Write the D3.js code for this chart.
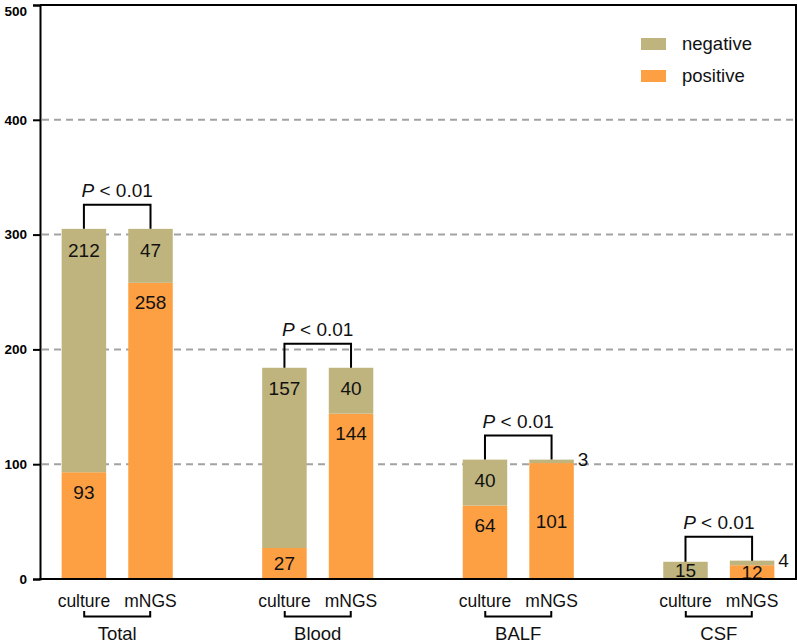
<!DOCTYPE html>
<html>
<head>
<meta charset="utf-8">
<script src="https://cdn.jsdelivr.net/npm/d3@7"></script>
<style>
  html, body { margin: 0; padding: 0; background: #fff; }
  svg { display: block; font-family: "Liberation Sans", Arial, Helvetica, sans-serif; }
</style>
</head>
<body>
<svg id="chart" width="797" height="644"></svg>
<script>
// ---- data ----
const groups = ["Total", "Blood", "BALF", "CSF"];
const methods = ["culture", "mNGS"];
const culturePositive = [93, 27, 64, 0];
const cultureNegative = [212, 157, 40, 15];
const mngsPositive = [258, 144, 101, 12];
const mngsNegative = [47, 40, 3, 4];
const pLabels = ["0.01", "0.01", "0.01", "0.01"];
const yTicks = [0, 100, 200, 300, 400, 500];
const gridTicks = [100, 200, 300, 400];
const seriesNames = ["negative", "positive"];

(function () {
// ---- style ----
const colors = { negative: "#BFB47D", positive: "#FDA043" };
const svg = d3.select("#chart");
const pLeft = 40, pRight = 796, pTop = 5, pBottom = 579;

const y = d3.scaleLinear().domain([0, 500]).range([pBottom, pTop]);
const xg = d3.scalePoint().domain(groups).range([pLeft, pRight]).padding(0.385);
const xm = d3.scalePoint().domain(methods).range([-33.3, 33.3]);
const barW = 44.5;

// build rows
const rows = [];
groups.forEach((g, i) => {
  rows.push({ group: g, method: "culture", positive: culturePositive[i], negative: cultureNegative[i] });
  rows.push({ group: g, method: "mNGS", positive: mngsPositive[i], negative: mngsNegative[i] });
});
const stacked = d3.stack().keys(["positive", "negative"])(rows);

// gridlines
svg.append("g").selectAll("line").data(gridTicks).join("line")
  .attr("x1", pLeft + 2).attr("x2", pRight)
  .attr("y1", d => y(d)).attr("y2", d => y(d))
  .attr("stroke", "#a3a3a3").attr("stroke-width", 2)
  .attr("stroke-dasharray", "7,5");

// bars
const cx = d => xg(d.group) + xm(d.method);
stacked.forEach(layer => {
  svg.append("g").selectAll("rect").data(layer).join("rect")
    .attr("x", d => cx(d.data) - barW / 2)
    .attr("width", barW)
    .attr("y", d => y(d[1]))
    .attr("height", d => Math.max(0, y(d[0]) - y(d[1])))
    .attr("fill", colors[layer.key]);
});

// value labels
const labelG = svg.append("g").attr("font-size", 19).attr("fill", "#111");
rows.forEach(r => {
  const total = r.positive + r.negative;
  const smallNeg = r.negative < 10;
  if (r.negative > 0) {
    if (smallNeg) {
      labelG.append("text").attr("x", cx(r) + barW / 2 + 4).attr("y", y(total))
        .attr("dy", "0.35em").text(r.negative);
    } else {
      const segTop = y(total), segBot = y(r.positive);
      const yy = (segBot - segTop) < 45 ? (segTop + segBot) / 2 : segTop + 21;
      labelG.append("text").attr("x", cx(r)).attr("y", yy).attr("dy", "0.35em")
        .attr("text-anchor", "middle").text(r.negative);
    }
  }
  if (r.positive > 0) {
    const segTop = y(r.positive), segBot = y(0);
    const yy = (smallNeg || (segBot - segTop) < 45) ? (segTop + segBot) / 2 : segTop + 20;
    labelG.append("text").attr("x", cx(r)).attr("y", yy).attr("dy", "0.35em")
      .attr("text-anchor", "middle").text(r.positive);
  }
});

// significance brackets
groups.forEach((g, i) => {
  const c = rows[i * 2], m = rows[i * 2 + 1];
  const tc = c.positive + c.negative, tm = m.positive + m.negative;
  const yTop = y(Math.max(tc, tm)) - 24;
  const x1 = cx(c), x2 = cx(m);
  svg.append("path")
    .attr("d", `M${x1},${y(tc)}V${yTop}H${x2}V${y(tm)}`)
    .attr("fill", "none").attr("stroke", "#000").attr("stroke-width", 2);
  const t = svg.append("text").attr("x", (x1 + x2) / 2).attr("y", yTop - 8)
    .attr("text-anchor", "middle").attr("font-size", 19).attr("fill", "#111");
  t.append("tspan").attr("font-style", "italic").text("P");
  t.append("tspan").text(" < " + pLabels[i]);
});

// frame
svg.append("path")
  .attr("d", `M${pLeft},${pTop}H${pRight}V${pBottom}`)
  .attr("fill", "none").attr("stroke", "#000").attr("stroke-width", 2);

// y axis
const yAxis = d3.axisLeft(y).tickValues(yTicks).tickSize(7).tickPadding(6).tickFormat(d3.format("d"));
const ya = svg.append("g").attr("transform", `translate(${pLeft},0)`).call(yAxis);
ya.attr("font-size", 13.5).attr("font-family", "'Liberation Sans', Arial, sans-serif");
ya.select(".domain").attr("stroke", "#000").attr("stroke-width", 2);
ya.selectAll(".tick line").attr("stroke", "#000").attr("stroke-width", 2);
ya.selectAll(".tick text").attr("font-weight", "bold").attr("fill", "#000")
  .attr("dy", d => d === 500 ? "0.8em" : "0.32em");

// x axis baseline
svg.append("line").attr("x1", pLeft - 1).attr("x2", pRight + 1)
  .attr("y1", pBottom).attr("y2", pBottom).attr("stroke", "#000").attr("stroke-width", 2);

// category labels
const xl = svg.append("g").attr("fill", "#111");
rows.forEach(r => {
  xl.append("text").attr("x", cx(r)).attr("y", 606.5)
    .attr("text-anchor", "middle").attr("font-size", 17.5).text(r.method);
});
groups.forEach(g => {
  const gx = xg(g);
  xl.append("path").attr("d", `M${gx - 33},611V616.5H${gx + 33}V611`)
    .attr("fill", "none").attr("stroke", "#000").attr("stroke-width", 2);
  xl.append("text").attr("x", gx).attr("y", 639.5)
    .attr("text-anchor", "middle").attr("font-size", 18.5).text(g);
});

// legend
const lg = svg.append("g");
seriesNames.forEach((s, i) => {
  const yy = 38 + i * 32;
  lg.append("rect").attr("x", 641).attr("y", yy).attr("width", 25).attr("height", 12)
    .attr("fill", colors[s]);
  lg.append("text").attr("x", 682).attr("y", yy + 6).attr("dy", "0.35em")
    .attr("font-size", 18.5).attr("fill", "#111").text(s);
});
})();
</script>
</body>
</html>
